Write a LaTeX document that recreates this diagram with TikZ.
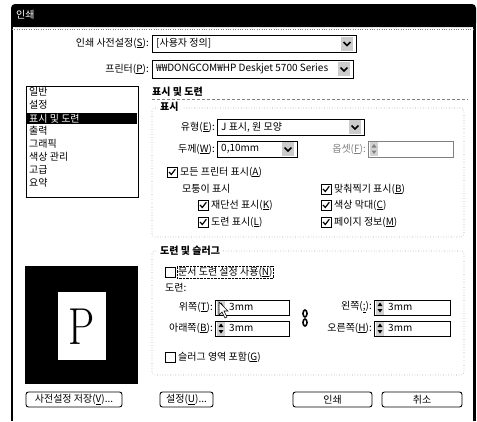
\documentclass[tikz,border=0pt]{standalone}
\usepackage{fontspec}
\newfontfamily\kr{Noto Sans CJK KR}
\newcommand\mn[1]{\underline{#1}}
\newcommand\dropbtn[2]{%
  \fill[gray!40] (#1-6,#2-7) rectangle (#1+6,#2+7);
  \draw[line width=1.5pt] (#1-3.5,#2-1.5) -- (#1,#2+2) -- (#1+3.5,#2-1.5);}
\newcommand\spinbtn[3]{%
  \fill[gray!35] (#1,#2-7) rectangle (#1+8,#2+7);
  \fill[#3] (#1+1.5,#2-1.5) -- (#1+4,#2-5) -- (#1+6.5,#2-1.5) -- cycle;
  \fill[#3] (#1+1.5,#2+1.5) -- (#1+4,#2+5) -- (#1+6.5,#2+1.5) -- cycle;}
\newcommand\cbox[2]{%
  \draw[fill=white,line width=0.7pt] (#1,#2-5) rectangle (#1+10,#2+5);}
\newcommand\cboxck[2]{%
  \cbox{#1}{#2}
  \draw[line width=1.2pt] (#1+2,#2) -- (#1+4.3,#2+2.5) -- (#1+8.3,#2-2.8);}

\begin{document}
\begin{tikzpicture}[x=1pt, y=-1pt,
  lbl/.style={font=\kr\fontsize{10}{12}\selectfont, inner sep=0pt},
  field/.style={draw, line width=0.6pt, fill=white},
  grp/.style={draw=gray!70, dotted, line width=0.6pt, rounded corners=3pt},
  btn/.style={lbl, draw, line width=0.9pt, rounded corners=2.5pt, minimum height=15pt}
]
\useasboundingbox (0,0) rectangle (477,421);
\fill[white] (0,0) rectangle (477,421);

\fill[rounded corners=4pt] (11,4) rectangle (476,27);
\fill (11,16) rectangle (476,27);
\node[lbl, white, anchor=west] (title) at (16,15) {인쇄};
\draw[line width=1.2pt] (12,27) -- (12,421);
\draw[line width=2.2pt] (474.5,20) -- (474.5,421);
\draw[gray, dotted] (12,29) -- (474,29);

\node[lbl, anchor=east] (presetlbl) at (149,43) {인쇄 사전설정(\mn{S}):};
\draw[field] (152,35) rectangle (356,52);
\node[lbl, anchor=west] (preset) at (156,43) {[사용자 정의]};
\dropbtn{347}{43.5}
\node[lbl, anchor=east] (printerlbl) at (149,69) {프린터(\mn{P}):};
\draw[field] (152,60) rectangle (353,78);
\node[lbl, anchor=west] (printer) at (156,69) {₩₩DONGCOM₩HP Deskjet 5700 Series};
\dropbtn{344}{69}

\draw[line width=0.8pt] (26,86) rectangle (138,197);
\node[lbl, anchor=west] (general) at (29,92) {일반};
\node[lbl, anchor=west] (setup) at (29,105) {설정};
\fill (27,113) rectangle (137,124);
\node[lbl, white, anchor=west] (marks) at (29,118.5) {표시 및 도련};
\node[lbl, anchor=west] (output) at (29,131) {출력};
\node[lbl, anchor=west] (graphics) at (29,144) {그래픽};
\node[lbl, anchor=west] (color) at (29,157) {색상 관리};
\node[lbl, anchor=west] (advanced) at (29,170) {고급};
\node[lbl, anchor=west] (summary) at (29,183) {요약};

\fill (25,266) rectangle (138,384);
\fill[white] (58,292) rectangle (106,360);
\node (pletter) at (82,327) {\fontsize{52}{52}\selectfont\scalebox{0.8}[1]{P}};

\node[lbl, font=\kr\bfseries\fontsize{10}{12}\selectfont, anchor=west] (markshead) at (152,92) {표시 및 도련};
\draw[gray, densely dashed] (152,99) -- (468,99);

\draw[grp] (152,108) rectangle (464,237);
\node[lbl, fill=white, inner xsep=3pt, font=\kr\bfseries\fontsize{10}{12}\selectfont, anchor=west] (markgrp) at (157,107) {표시};
\node[lbl, anchor=east] (typelbl) at (215,127) {유형(\mn{E}):};
\draw[field] (217,119) rectangle (364,135);
\node[lbl, anchor=west] (type) at (221,127) {J 표시, 원 모양};
\dropbtn{355}{127}
\node[lbl, anchor=east] (weightlbl) at (215,149) {두께(\mn{W}):};
\draw[field] (217,141) rectangle (297,157);
\node[lbl, anchor=west] (weight) at (221,149) {0,10mm};
\dropbtn{288}{149}
\node[lbl, gray, anchor=east] (offsetlbl) at (366,149) {옵셋(\mn{F}):};
\draw[field, draw=gray] (368,141) rectangle (453,157);
\spinbtn{370}{149}{gray}

\cboxck{167}{172}
\node[lbl, anchor=west] (allprn) at (180,172) {모든 프린터 표시(\mn{A})};
\node[lbl, anchor=west] (cornerlbl) at (182,189) {모퉁이 표시};
\cboxck{198}{205}
\node[lbl, anchor=west] (trim) at (211,205) {재단선 표시(\mn{K})};
\cboxck{198}{222}
\node[lbl, anchor=west] (bleedmk) at (211,222) {도련 표시(\mn{L})};
\cboxck{321}{189}
\node[lbl, anchor=west] (reg) at (334,189) {맞춰찍기 표시(\mn{B})};
\cboxck{321}{205}
\node[lbl, anchor=west] (colorbar) at (334,205) {색상 막대(\mn{C})};
\cboxck{321}{222}
\node[lbl, anchor=west] (pageinfo) at (334,222) {페이지 정보(\mn{M})};

\draw[grp] (152,251) rectangle (464,375);
\node[lbl, fill=white, inner xsep=3pt, font=\kr\bfseries\fontsize{10}{12}\selectfont, anchor=west] (bleedgrp) at (157,251) {도련 및 슬러그};
\cbox{165}{272}
\node[lbl, anchor=west, draw, densely dotted, inner sep=1pt] (docbleed) at (177,272) {문서 도련 설정 사용(\mn{N})};
\node[lbl, anchor=west] (bleedlbl) at (165,288) {도련:};

\node[lbl, anchor=east] (toplbl) at (213,307) {위쪽(\mn{T}):};
\draw[field] (215,300) rectangle (289,315);
\spinbtn{217}{307.5}{black}
\node[lbl, anchor=west] (top) at (229,307) {3mm};
\node[lbl, anchor=east] (botlbl) at (213,328) {아래쪽(\mn{B}):};
\draw[field] (215,321) rectangle (289,336);
\spinbtn{217}{328.5}{black}
\node[lbl, anchor=west] (bot) at (229,328) {3mm};
\node[lbl, anchor=east] (leftlbl) at (372,307) {왼쪽(\mn{;}):};
\draw[field] (374,300) rectangle (450,315);
\spinbtn{376}{307.5}{black}
\node[lbl, anchor=west] (left) at (388,307) {3mm};
\node[lbl, anchor=east] (rightlbl) at (372,328) {오른쪽(\mn{H}):};
\draw[field] (374,321) rectangle (450,336);
\spinbtn{376}{328.5}{black}
\node[lbl, anchor=west] (right) at (388,328) {3mm};

\draw[line width=1.6pt] (305,313.5) ellipse (2 and 3.5);
\draw[line width=1.6pt] (305,322.5) ellipse (2 and 3.5);
\draw[fill=white, line width=0.6pt] (219,302) -- (219,315) -- (222,312) -- (225,318) -- (227,317) -- (224,311) -- (228,311) -- cycle;

\cbox{165}{357}
\node[lbl, anchor=west] (slug) at (178,357) {슬러그 영역 포함(\mn{G})};

\node[btn, minimum width=96pt] (savebtn) at (74,399.5) {사전설정 저장(\mn{V})...};
\node[btn, minimum width=53pt] (setupbtn) at (186.5,399.5) {설정(\mn{U})...};
\node[btn, minimum width=79pt] (printbtn) at (332.5,399.5) {인쇄};
\node[btn, minimum width=80pt] (cancelbtn) at (422,399.5) {취소};
\end{tikzpicture}
\end{document}
